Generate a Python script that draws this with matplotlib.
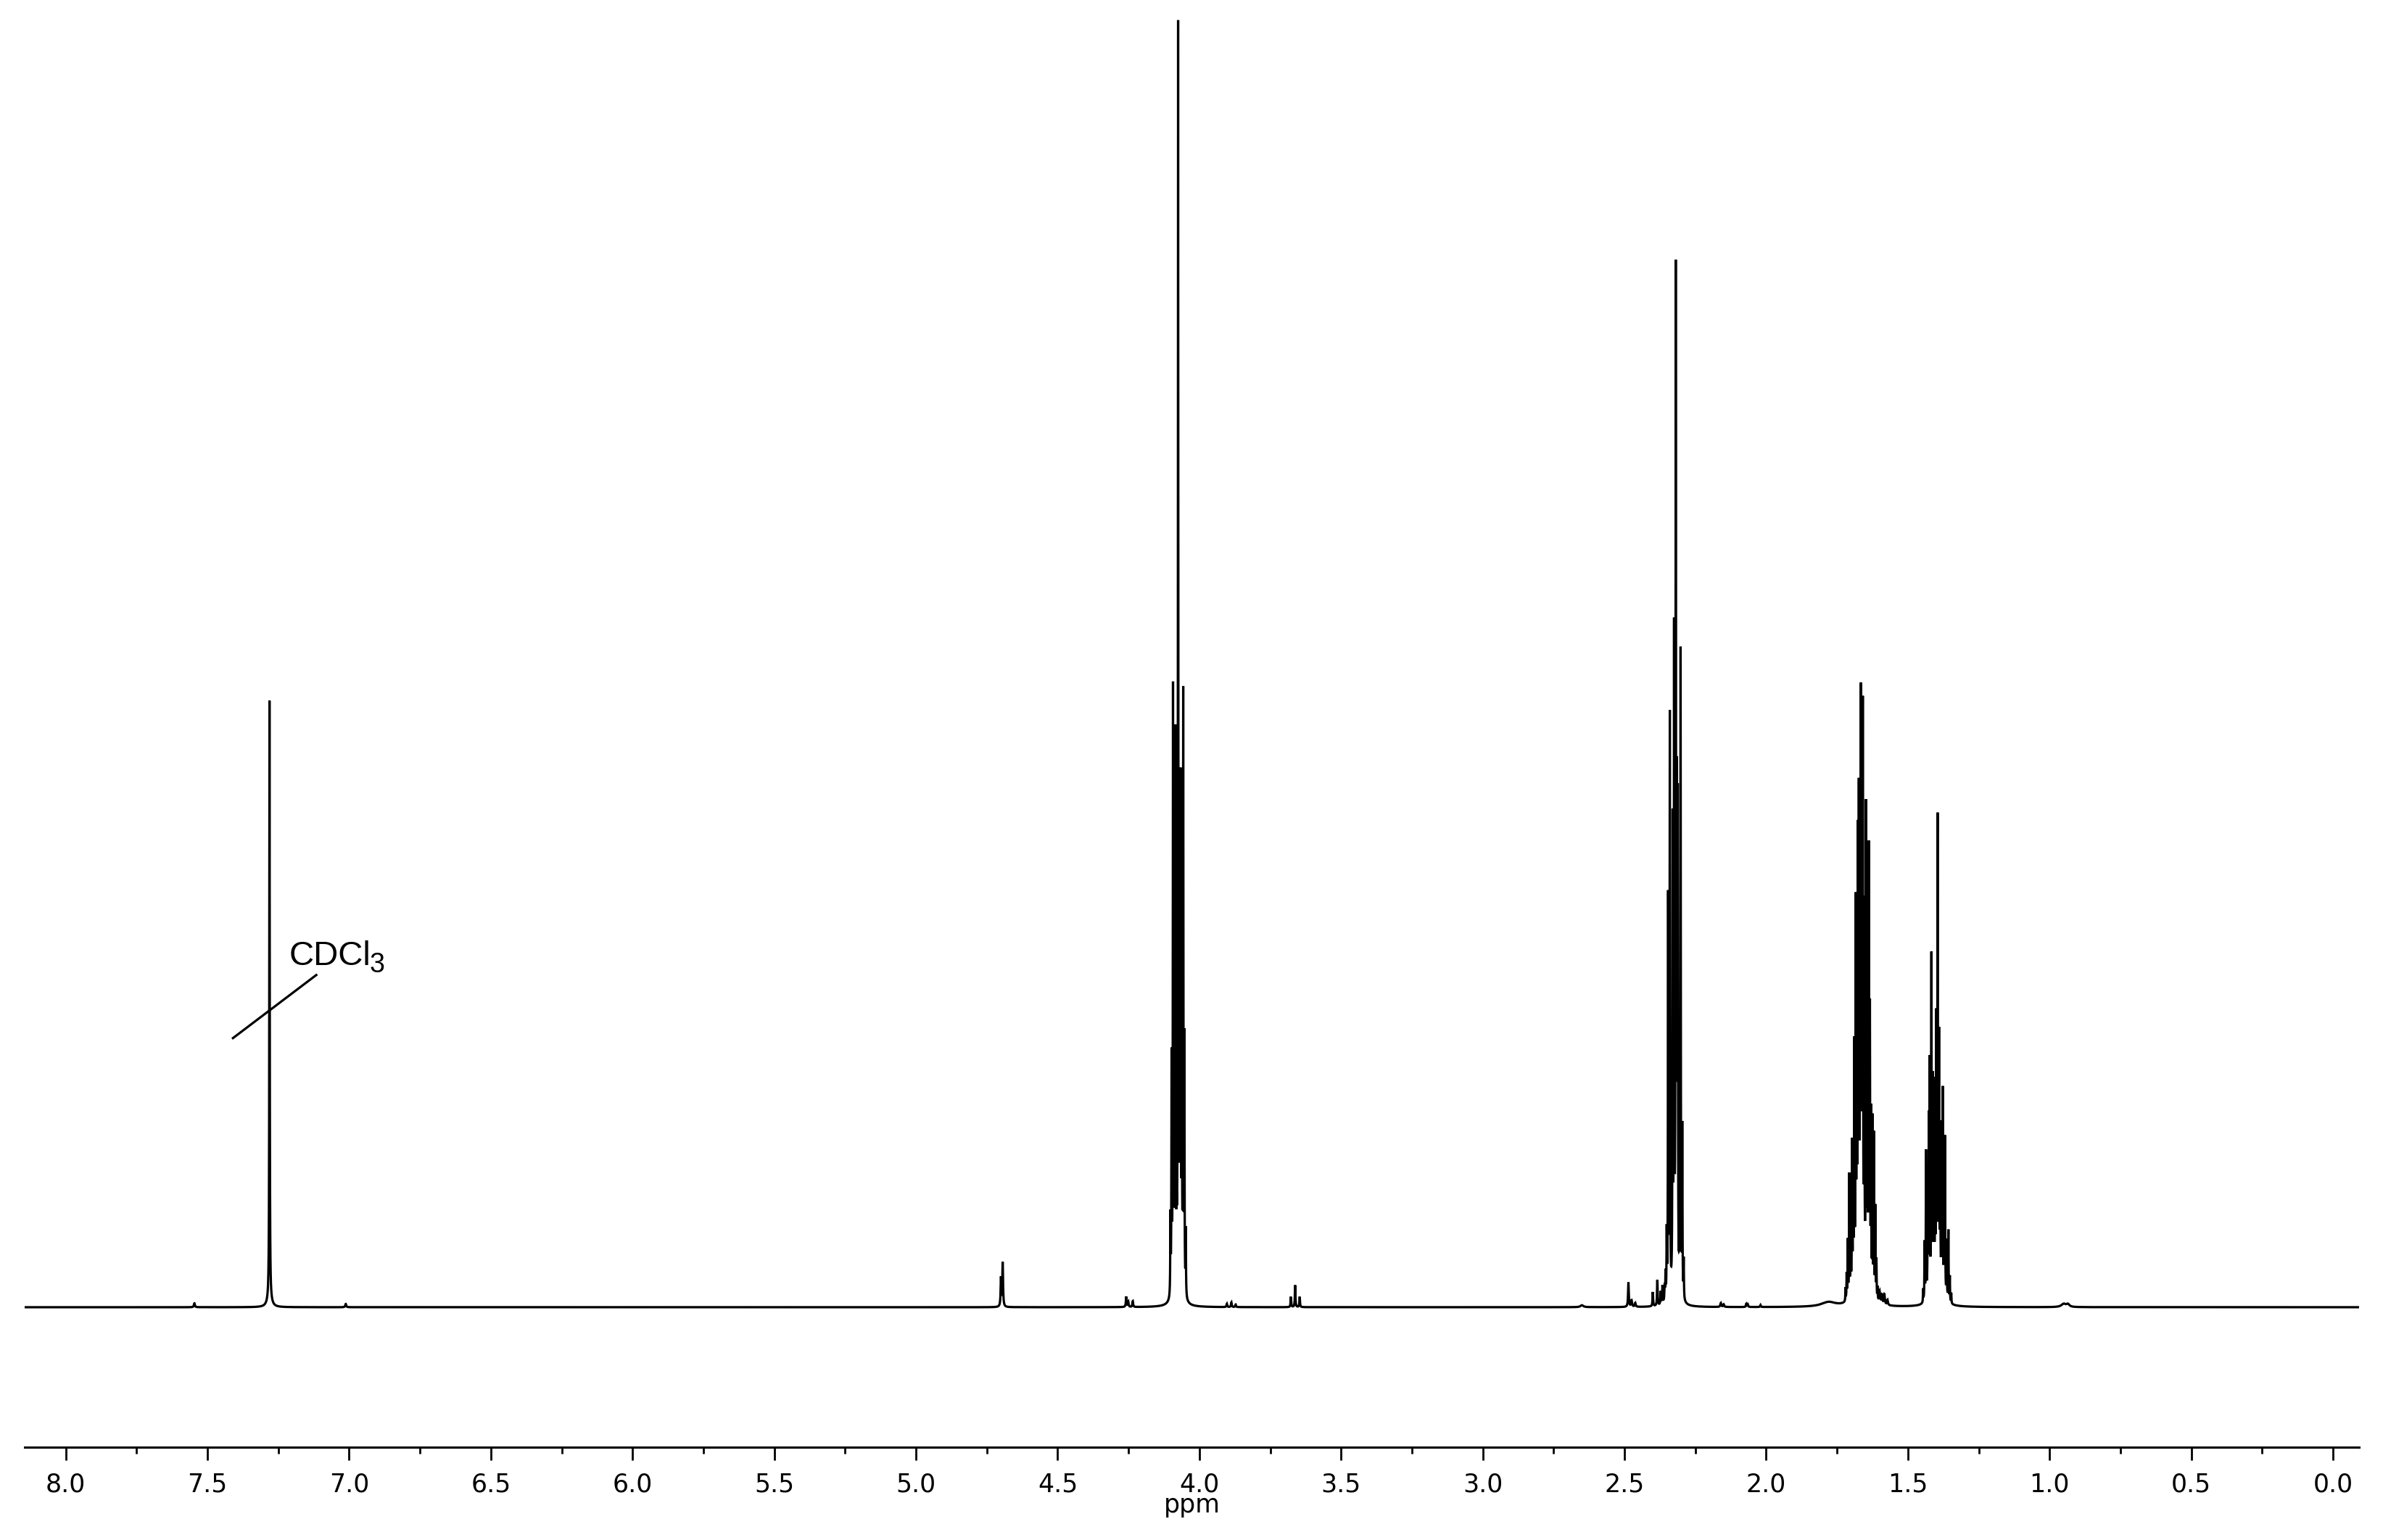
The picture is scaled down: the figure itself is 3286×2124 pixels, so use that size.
"""1H NMR spectrum in CDCl3, redrawn from a read-off line list."""
import matplotlib

matplotlib.use("Agg")
import matplotlib.pyplot as plt
import numpy as np
from matplotlib.ticker import FixedLocator, MultipleLocator

# ---- line lists (ppm, relative height; tallest line ~100) ----
SOLVENT_PPM = [7.281]
SOLVENT_HT = [46.5]

OCH2_PPM = [4.102, 4.098, 4.093, 4.088, 4.084, 4.080, 4.075, 4.071, 4.069,
            4.066, 4.062, 4.057, 4.053, 4.048]
OCH2_HT = [6, 18, 46.5, 20, 42, 3, 97.3, 4, 16, 38, 20, 46, 19, 5]

COCH2_PPM = [2.355, 2.351, 2.346, 2.340, 2.330, 2.325, 2.319, 2.315, 2.312,
             2.306, 2.302, 2.296, 2.291]
COCH2_HT = [2, 5, 31, 45, 36, 50, 77.4, 36, 36, 4, 50, 13, 3]

MID_PPM = [1.720, 1.716, 1.712, 1.707, 1.702, 1.697, 1.693, 1.689, 1.684,
           1.680, 1.676, 1.673, 1.669, 1.666, 1.662, 1.659, 1.654, 1.648,
           1.643, 1.638, 1.634, 1.630, 1.625, 1.620, 1.615, 1.611, 1.607]
MID_HT = [1.0, 2.0, 4.5, 9.5, 7, 11.5, 9.5, 18.5, 29, 25, 32, 35, 28, 42,
          38, 41.5, 28, 36.5, 26, 33.5, 21, 13.5, 13.5, 12.5, 7, 3, 1]

CENTER_PPM = [1.446, 1.441, 1.436, 1.430, 1.426, 1.423, 1.417, 1.412, 1.408,
              1.404, 1.400, 1.395, 1.390, 1.386, 1.381, 1.377, 1.372, 1.369,
              1.363, 1.357, 1.352, 1.347]
CENTER_HT = [1, 4.5, 11.5, 9, 13, 17.5, 26, 16, 15.5, 8, 20.5, 36, 19, 12,
             12, 15.5, 8, 12, 4.5, 5.5, 2, 0.8]

# small / broad features: ppm, height, half width (ppm)
MINOR_PPM = [7.546, 7.012, 7.281, 4.700, 4.694, 4.258, 4.251, 4.235, 4.078,
             3.903, 3.887, 3.872, 3.677, 3.662, 3.646, 2.650, 2.486, 2.475,
             2.462, 2.400, 2.384, 2.372, 2.366, 2.358, 2.320, 2.160, 2.150,
             2.070, 2.065, 2.020, 1.780, 1.665, 1.600, 1.592, 1.583, 1.572,
             1.395, 0.950, 0.935]
MINOR_HT = [0.3, 0.25, 0.6, 2.2, 3.4, 0.8, 0.4, 0.45, 1.2,
            0.25, 0.36, 0.2, 0.8, 1.7, 0.8, 0.15, 1.9, 0.5,
            0.3, 1.1, 2.0, 1.0, 1.4, 1.2, 0.8, 0.3, 0.2,
            0.25, 0.2, 0.15, 0.35, 1.5, 0.9, 0.7, 0.8, 0.4,
            1.0, 0.25, 0.2]
MINOR_HW = [0.002, 0.002, 0.008, 0.0015, 0.0015, 0.0015, 0.0015, 0.0015, 0.012,
            0.0015, 0.0015, 0.0015, 0.0012, 0.0012, 0.0012, 0.006, 0.0015, 0.002,
            0.002, 0.0012, 0.0012, 0.0012, 0.0012, 0.0012, 0.012, 0.002, 0.002,
            0.0015, 0.0015, 0.0015, 0.03, 0.02, 0.002, 0.002, 0.002, 0.002,
            0.02, 0.01, 0.006]

SHARP_HW = 0.0008

TICK_PPM = [8.0, 7.5, 7.0, 6.5, 6.0, 5.5, 5.0, 4.5, 4.0, 3.5, 3.0, 2.5, 2.0,
            1.5, 1.0, 0.5, 0.0]
TICK_LABELS = ["8.0", "7.5", "7.0", "6.5", "6.0", "5.5", "5.0", "4.5", "4.0",
               "3.5", "3.0", "2.5", "2.0", "1.5", "1.0", "0.5", "0.0"]

X_LEFT, X_RIGHT = 8.145, -0.092


def lorentz(axis, centres, heights, hw):
    out = np.zeros_like(axis)
    widths = np.broadcast_to(np.asarray(hw, dtype=float), (len(centres),))
    for c, h, w in zip(centres, heights, widths):
        out += h * w * w / ((axis - c) ** 2 + w * w)
    return out


ppm = np.arange(X_RIGHT, X_LEFT, 0.0001)
spec = (lorentz(ppm, SOLVENT_PPM, SOLVENT_HT, 0.0009)
        + lorentz(ppm, OCH2_PPM, OCH2_HT, SHARP_HW)
        + lorentz(ppm, COCH2_PPM, COCH2_HT, SHARP_HW)
        + lorentz(ppm, MID_PPM, MID_HT, SHARP_HW)
        + lorentz(ppm, CENTER_PPM, CENTER_HT, SHARP_HW)
        + lorentz(ppm, MINOR_PPM, MINOR_HT, MINOR_HW))

W, H = 3287, 2124
fig = plt.figure(figsize=(W / 100, H / 100), dpi=100, facecolor="white")
ax = fig.add_axes([34 / W, 128 / H, (3253 - 34) / W, 1 - 128 / H])
ax.plot(ppm, spec, color="black", lw=2.3, solid_joinstyle="miter")

ax.set_xlim(X_LEFT, X_RIGHT)
ax.set_ylim(-10.87, 101.52)
for side in ("left", "right", "top"):
    ax.spines[side].set_visible(False)
ax.spines["bottom"].set_linewidth(2.2)
ax.yaxis.set_visible(False)

ax.xaxis.set_major_locator(FixedLocator(TICK_PPM))
ax.set_xticklabels(TICK_LABELS)
ax.xaxis.set_minor_locator(MultipleLocator(0.25))
ax.tick_params(axis="x", which="major", direction="out", length=13, width=2.0,
               pad=12, labelsize=25)
ax.tick_params(axis="x", which="minor", direction="out", length=6.5, width=2.0)
ax.set_xlabel("ppm", fontsize=25, labelpad=-4)

# solvent label
ax.plot([7.410, 7.116], [20.9, 25.8], color="black", lw=2.3)
solv = ax.text(7.213, 26.6, "CDCl", fontsize=34, ha="left", va="baseline",
               family="Liberation Sans")
ax.annotate("3", xy=(1, 0), xycoords=solv, xytext=(-1, 0),
            textcoords="offset points", fontsize=27, ha="left",
            va="baseline", family="Liberation Sans")

fig.savefig("out.png", dpi=100, facecolor="white")
